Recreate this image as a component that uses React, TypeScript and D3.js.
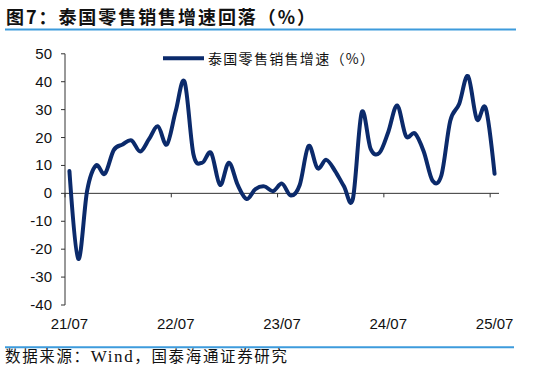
import * as d3 from 'd3';

// monthly series, 21/07 .. 25/07
const values = [
  8, -23.5, 1, 10, 7, 15.5, 17.5, 19, 15, 19.5, 24, 17.5,
  29.5, 40, 14, 11, 14.5, 3, 11, 3, -2, 1.5, 2.5, 0.8,
  3.5, -0.8, 3, 17, 9, 12, 8, 2.5, -2, 29, 16, 14.5,
  22, 31.5, 20.5, 21.5, 15, 4.5, 6.5, 26, 32, 42, 26.5, 30.5,
  7,
];
const tickLabels = ['21/07', '22/07', '23/07', '24/07', '25/07'];
const yTicks = [-40, -30, -20, -10, 0, 10, 20, 30, 40, 50];
const seriesName = '泰国零售销售增速（%）';
const title = '图7：泰国零售销售增速回落（%）';
const sourceParts = ['数据来源：', 'Wind', '，国泰海通证券研究'];

const W = 538;
const H = 375;
const navy = '#0b2a6b';
const blue = '#3d9bdc';
const axisColor = '#333';
const numFont = '"Liberation Sans", Arial, sans-serif';
const cjkFont = '"Noto Sans CJK SC", sans-serif';
const serifFont = '"Liberation Serif", serif';

export default function App() {
  const x = d3.scaleLinear().domain([0, values.length]).range([65, 499]);
  const y = d3.scaleLinear().domain([-40, 50]).range([305, 53.8]);

  const line = d3
    .line<number>()
    .x((_, i) => x(i + 0.5))
    .y((d) => y(d))
    .curve(d3.curveCardinal.tension(0));

  return (
    <svg
      width={W}
      height={H}
      style={{ position: 'absolute', left: 0, top: 0, background: '#fff' }}
    >
      {/* title */}
      <text
        x={6}
        y={24}
        fontFamily={cjkFont}
        fontWeight="bold"
        fontSize={18}
        textLength={309}
        lengthAdjust="spacing"
        fill="#111"
      >
        {title}
      </text>
      <line x1={5} x2={516} y1={29.5} y2={29.5} stroke={blue} strokeWidth={2} />

      {/* y axis */}
      <line x1={x(0)} x2={x(0)} y1={y(50)} y2={y(-40)} stroke={axisColor} />
      {yTicks.map((t) => (
        <g key={t}>
          <line x1={x(0) - 4} x2={x(0)} y1={y(t)} y2={y(t)} stroke={axisColor} />
          <text
            x={52}
            y={y(t) + 5}
            textAnchor="end"
            fontFamily={numFont}
            fontSize={15}
            fill="#111"
          >
            {t}
          </text>
        </g>
      ))}

      {/* x axis at zero */}
      <line x1={x(0)} x2={x(values.length)} y1={y(0)} y2={y(0)} stroke={axisColor} />
      {tickLabels.map((lab, k) => (
        <g key={lab}>
          <line
            x1={x(k * 12)}
            x2={x(k * 12)}
            y1={y(0)}
            y2={y(0) + 4}
            stroke={axisColor}
          />
          <text
            x={x(k * 12 + 0.5)}
            y={329}
            textAnchor="middle"
            fontFamily={numFont}
            fontSize={15}
            fill="#111"
          >
            {lab}
          </text>
        </g>
      ))}

      {/* series */}
      <path
        d={line(values) ?? ''}
        fill="none"
        stroke={navy}
        strokeWidth={4}
        strokeLinejoin="round"
        strokeLinecap="round"
      />

      {/* legend */}
      <line x1={163} x2={204} y1={58.3} y2={58.3} stroke={navy} strokeWidth={4} />
      <text
        x={208}
        y={63.5}
        fontFamily={cjkFont}
        fontSize={14}
        textLength={166}
        lengthAdjust="spacing"
        fill="#111"
      >
        {seriesName}
      </text>

      {/* footer */}
      <line x1={5} x2={514} y1={347.3} y2={347.3} stroke={blue} strokeWidth={2} />
      <text
        x={5}
        y={362}
        fontFamily={cjkFont}
        fontSize={15.5}
        textLength={282}
        lengthAdjust="spacing"
        fill="#111"
      >
        <tspan>{sourceParts[0]}</tspan>
        <tspan fontFamily={serifFont} fontSize={17}>{sourceParts[1]}</tspan>
        <tspan>{sourceParts[2]}</tspan>
      </text>
    </svg>
  );
}
